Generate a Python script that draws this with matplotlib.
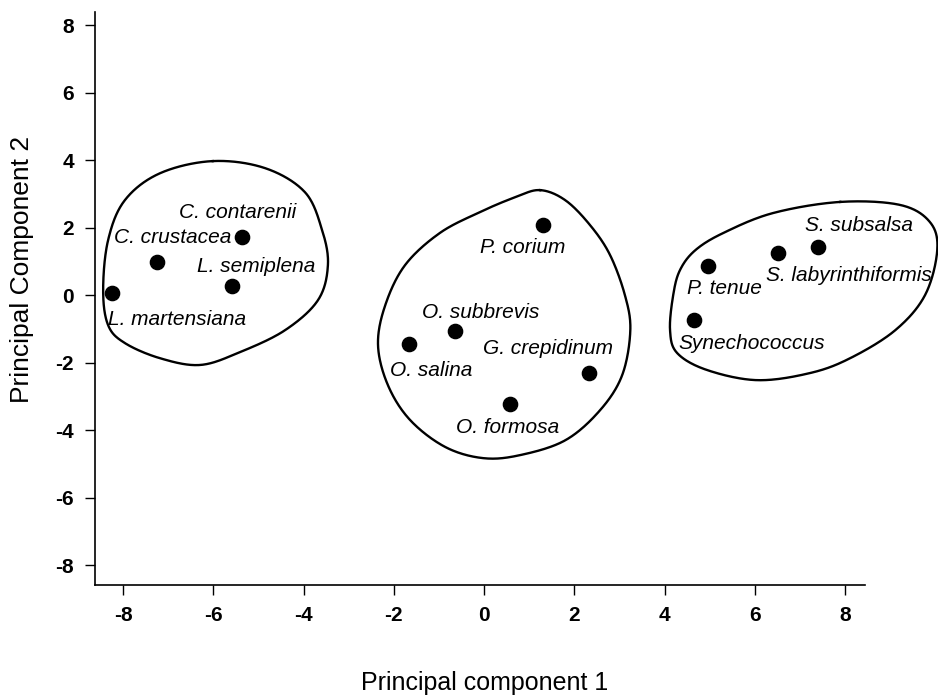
import numpy as np
import matplotlib
matplotlib.use("Agg")
import matplotlib.pyplot as plt

plt.rcParams['font.family'] = ['Liberation Sans', 'DejaVu Sans']
plt.rcParams['axes.unicode_minus'] = False

# species scores on the first two principal components
species = ["L. martensiana", "C. crustacea", "C. contarenii", "L. semiplena",
           "P. corium", "O. subbrevis", "O. salina", "G. crepidinum", "O. formosa",
           "P. tenue", "S. labyrinthiformis", "S. subsalsa", "Synechococcus"]
pc1 = [-8.24, -7.25, -5.36, -5.58, 1.31, -0.64, -1.66, 2.33, 0.58, 4.97, 6.52, 7.39, 4.66]
pc2 = [0.06, 0.98, 1.72, 0.27, 2.07, -1.07, -1.45, -2.31, -3.23, 0.86, 1.24, 1.42, -0.74]

# label offsets (pixels) from each point
lbl_dx = [65, 16, -5, 24, -21, 25, 22, -41, -3, 16, 71, 41, 57]
lbl_dy = [-26, 25, 25, 19, -22, 19, -26, 25, -23, -22, -22, 22, -23]

# hand-drawn group outlines (data units)
left_x = [-6.01, -4.85, -3.97, -3.59, -3.46, -3.68, -4.41, -5.41, -6.29, -7.18, -7.96, -8.33, -8.44, -8.33, -7.96, -7.18]
left_y = [3.97, 3.76, 3.05, 1.93, 0.89, -0.15, -1.04, -1.69, -2.07, -1.87, -1.42, -0.89, 0.15, 1.63, 2.81, 3.61]
mid_x = [1.24, 1.80, 2.35, 2.79, 3.12, 3.24, 3.06, 2.57, 1.80, 0.80, -0.02, -0.86, -1.64, -2.13, -2.35, -2.19, -1.75, -0.98, -0.09, 0.69]
mid_y = [3.11, 2.81, 2.07, 1.19, 0.0, -1.04, -2.37, -3.41, -4.30, -4.74, -4.83, -4.50, -3.70, -2.67, -1.48, -0.30, 0.89, 1.84, 2.46, 2.90]
right_x = [7.89, 9.22, 9.88, 10.04, 9.77, 9.11, 8.11, 7.22, 6.05, 4.94, 4.28, 4.12, 4.19, 4.34, 4.68, 5.30, 6.40]
right_y = [2.76, 2.67, 2.16, 1.33, 0.0, -1.04, -1.87, -2.31, -2.52, -2.22, -1.72, -1.04, 0.0, 0.74, 1.33, 1.84, 2.43]

xticks = [-8, -6, -4, -2, 0, 2, 4, 6, 8]
yticks = [-8, -6, -4, -2, 0, 2, 4, 6, 8]


def closed_spline(xs, ys, n=30):
    # closed catmull-rom curve through the outline points
    p = np.column_stack([xs, ys])
    m = len(p)
    out = []
    t = np.linspace(0, 1, n, endpoint=False)[:, None]
    for i in range(m):
        p0, p1, p2, p3 = p[i - 1], p[i], p[(i + 1) % m], p[(i + 2) % m]
        seg = 0.5 * ((2 * p1) + (-p0 + p2) * t + (2 * p0 - 5 * p1 + 4 * p2 - p3) * t ** 2
                     + (-p0 + 3 * p1 - 3 * p2 + p3) * t ** 3)
        out.append(seg)
    out = np.vstack(out)
    out = np.vstack([out, out[:1]])
    return out[:, 0], out[:, 1]


fig = plt.figure(figsize=(9.38, 6.99), dpi=100)
ax = fig.add_axes([0.1013, 0.163, 0.8209, 0.820])

for bx, by in [(left_x, left_y), (mid_x, mid_y), (right_x, right_y)]:
    cx, cy = closed_spline(bx, by)
    ax.plot(cx, cy, color="black", lw=1.7, clip_on=False)

ax.scatter(pc1, pc2, s=105, color="black", zorder=3, clip_on=False)

for name, x, y, dx, dy in zip(species, pc1, pc2, lbl_dx, lbl_dy):
    ax.annotate(name, (x, y), xytext=(dx, dy), textcoords="offset pixels",
                ha="center", va="center", fontsize=15, style="italic",
                annotation_clip=False)

ax.set_xlim(-8.62, 8.44)
ax.set_ylim(-8.59, 8.39)
ax.set_xticks(xticks)
ax.set_yticks(yticks)
ax.spines["top"].set_visible(False)
ax.spines["right"].set_visible(False)
ax.spines["left"].set_linewidth(1.2)
ax.spines["bottom"].set_linewidth(1.2)
ax.tick_params(direction="out", length=7, width=1, labelsize=15, pad=8)
for lab in ax.get_xticklabels() + ax.get_yticklabels():
    lab.set_fontweight("bold")

ax.set_xlabel("Principal component 1", fontsize=18)
ax.set_ylabel("Principal Component 2", fontsize=19)
ax.xaxis.set_label_coords(0.506, -0.171)
ax.xaxis.label.set_va("center")
ax.yaxis.set_label_coords(-0.095, 0.55)
ax.yaxis.label.set_va("center")

fig.savefig("out.png", dpi=100)
